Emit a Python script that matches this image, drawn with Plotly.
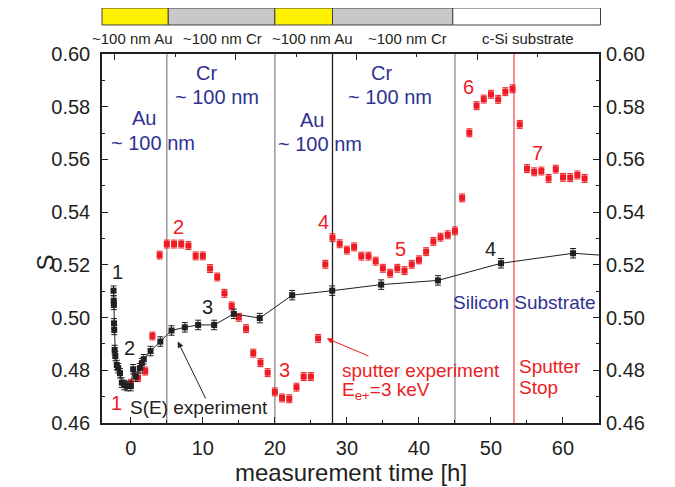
import plotly.graph_objects as go

# ---------------- data ----------------
red_t = list(range(0, 64))
red_S = [0.4751, 0.4772, 0.4797, 0.4930, 0.5237, 0.5279, 0.5279, 0.5279, 0.5273, 0.5234,
         0.5234, 0.5186, 0.5154, 0.5092, 0.5044, 0.5001, 0.4958, 0.4865, 0.4829, 0.4791,
         0.4718, 0.4695, 0.4692, 0.4736, 0.4776, 0.4776, 0.4921, 0.5202, 0.5303, 0.5280,
         0.5256, 0.5268, 0.5233, 0.5233, 0.5214, 0.5187, 0.5168, 0.5187, 0.5178, 0.5202,
         0.5219, 0.5250, 0.5289, 0.5305, 0.5314, 0.5329, 0.5454, 0.5701, 0.5804, 0.5829,
         0.5847, 0.5828, 0.5857, 0.5868, 0.5733, 0.5565, 0.5553, 0.5556, 0.5528, 0.5563,
         0.5532, 0.5531, 0.5541, 0.5528]

blk_t = [-2.4, -2.37, -2.35, -2.33, -2.3, -2.25, -2.15, -1.95, -1.75, -1.5, -1.25, -0.9, -0.5, 0.0,
         0.32, 0.69, 1.25, 1.53, 1.8, 2.74, 4.1, 5.65, 7.5, 9.35, 11.57, 14.3, 17.9, 22.4,
         27.96, 34.76, 42.64, 51.4, 61.4, 70.0]
blk_S = [0.5102, 0.5064, 0.5048, 0.4978, 0.4953, 0.4877, 0.4854, 0.4820, 0.4808, 0.4789,
         0.4753, 0.4744, 0.4740, 0.4740, 0.4804, 0.4776, 0.4808, 0.4827, 0.4842, 0.4873,
         0.4909, 0.4951, 0.4963, 0.4972, 0.4972, 0.5014, 0.4998, 0.5085, 0.5102, 0.5125,
         0.5141, 0.5206, 0.5244, 0.5228]

red_err = 0.0015
blk_err = 0.0018

boundaries = [5, 20, 28, 45]          # layer interfaces (h)
sputter_stop = 53.2
layer_labels = ["~100 nm Au", "~100 nm Cr", "~100 nm Au", "~100 nm Cr", "c-Si substrate"]
x_ticks_vals = [0, 10, 20, 30, 40, 50, 60]
y_tick_vals = [0.46, 0.48, 0.50, 0.52, 0.54, 0.56, 0.58, 0.60]

RED = "#ED1C24"
BLUE = "#2E3192"
BLK = "#231F20"
FONT = "Arial, Liberation Sans, sans-serif"

fig = go.Figure()

fig.add_trace(go.Scatter(
    x=red_t, y=red_S, mode="markers",
    marker=dict(symbol="square", size=6, color=RED),
    error_y=dict(type="constant", value=red_err, color=RED, thickness=1, width=3),
    showlegend=False, hoverinfo="skip"))

fig.add_trace(go.Scatter(
    x=blk_t, y=blk_S, mode="lines+markers",
    line=dict(color=BLK, width=1),
    marker=dict(symbol="square", size=6, color=BLK),
    error_y=dict(type="constant", value=blk_err, color=BLK, thickness=1, width=3),
    showlegend=False, hoverinfo="skip"))

# dummy traces to activate secondary axes
fig.add_trace(go.Scatter(x=[0], y=[0.5], yaxis="y2", mode="markers",
                         marker=dict(opacity=0), showlegend=False, hoverinfo="skip"))
fig.add_trace(go.Scatter(x=[1], y=[0.5], xaxis="x2", mode="markers",
                         marker=dict(opacity=0), showlegend=False, hoverinfo="skip"))

shapes = []
for b in boundaries:
    col = BLK if b == 28 else "#8A8A8A"
    shapes.append(dict(type="line", xref="x", yref="paper", x0=b, x1=b, y0=0, y1=1,
                       line=dict(color=col, width=1.3), layer="below"))
shapes.append(dict(type="line", xref="x", yref="paper", x0=sputter_stop, x1=sputter_stop,
                   y0=0, y1=1, line=dict(color=RED, width=1), layer="below"))

# top layer bar
bar_edges = [0.0, 0.1333, 0.3478, 0.4638, 0.7058, 1.003]
bar_cols = ["#FFF200", "#C8C8C8", "#FFF200", "#C8C8C8", "#FFFFFF"]
for i in range(5):
    shapes.append(dict(type="rect", xref="paper", yref="paper",
                       x0=bar_edges[i], x1=bar_edges[i + 1], y0=1.0786, y1=1.1247,
                       fillcolor=bar_cols[i], line=dict(color="#404040", width=1)))

annotations = []
label_x = [0.060, 0.2425, 0.4235, 0.6137, 0.8581]
for lx, lt in zip(label_x, layer_labels):
    annotations.append(dict(x=lx, y=1.0407, xref="paper", yref="paper", text=lt,
                            showarrow=False, yanchor="middle", xanchor="center",
                            font=dict(size=15, color=BLK, family=FONT)))

def txt(x, y, t, col, size=20, xanchor="center"):
    annotations.append(dict(x=x, y=y, xref="x", yref="y", text=t, showarrow=False,
                            xanchor=xanchor, yanchor="middle",
                            font=dict(size=size, color=col, family=FONT)))

# numbers
txt(-1.8, 0.5173, "1", BLK); txt(-0.14, 0.4884, "2", BLK)
txt(10.7, 0.5041, "3", BLK); txt(49.96, 0.5259, "4", BLK)
txt(-2.0, 0.4675, "1", RED); txt(6.6, 0.5345, "2", RED)
txt(21.4, 0.4801, "3", RED); txt(26.8, 0.5364, "4", RED)
txt(37.4, 0.5259, "5", RED); txt(46.85, 0.5876, "6", RED)
txt(56.4, 0.5623, "7", RED)

# layer descriptions
txt(10.5, 0.5927, "Cr", BLUE); txt(11.9, 0.5836, "~ 100 nm", BLUE)
txt(1.8, 0.5757, "Au", BLUE); txt(3.1, 0.5662, "~ 100 nm", BLUE)
txt(25.1, 0.5750, "Au", BLUE); txt(26.25, 0.5659, "~ 100 nm", BLUE)
txt(34.8, 0.5927, "Cr", BLUE); txt(36.0, 0.5836, "~ 100 nm", BLUE)
txt(54.7, 0.5057, "Silicon Substrate", BLUE, size=19)

txt(29.1, 0.4801, "sputter experiment", RED, size=19, xanchor="left")
txt(29.1, 0.4722, "E<sub>e+</sub>=3 keV", RED, size=19, xanchor="left")
txt(53.6, 0.4816, "Sputter", RED, size=19, xanchor="left")
txt(53.6, 0.4734, "Stop", RED, size=19, xanchor="left")
txt(-0.37, 0.4657, "S(E) experiment", BLK, size=19, xanchor="left")

# arrows
annotations.append(dict(x=6.53, y=0.4909, ax=10.5, ay=0.4687, xref="x", yref="y",
                        axref="x", ayref="y", showarrow=True, arrowhead=2, arrowsize=1.2,
                        arrowwidth=1, arrowcolor=BLK, text=""))
annotations.append(dict(x=27.2, y=0.4921, ax=33.2, ay=0.4852, xref="x", yref="y",
                        axref="x", ayref="y", showarrow=True, arrowhead=2, arrowsize=1.2,
                        arrowwidth=1, arrowcolor=RED, text=""))

# axis titles
annotations.append(dict(x=0.5, y=-0.135, xref="paper", yref="paper", text="measurement time [h]",
                        showarrow=False, yanchor="middle",
                        font=dict(size=24, color=BLK, family=FONT)))
annotations.append(dict(x=-0.145, y=0.436, xref="paper", yref="paper", text="S",
                        showarrow=False, textangle=-90,
                        font=dict(size=24, color=BLK, family=FONT)))

axis_font = dict(size=20, color=BLK, family=FONT)
fig.update_layout(
    width=667, height=479,
    margin=dict(l=94, r=76, t=46, b=64),
    paper_bgcolor="white", plot_bgcolor="white",
    showlegend=False,
    shapes=shapes, annotations=annotations,
    xaxis=dict(range=[-4, 65], tickvals=x_ticks_vals, ticks="inside", ticklen=6,
               tickcolor=BLK, showline=True, linecolor=BLK, linewidth=1.5, mirror=True,
               showgrid=False, zeroline=False, tickfont=axis_font, ticklabelstandoff=6,
               minor=dict(dtick=5, tick0=0, ticks="inside", ticklen=3, tickcolor=BLK)),
    xaxis2=dict(range=[-0.104, 4.005], overlaying="x", side="top", anchor="y",
                dtick=1, tick0=0, ticks="inside", ticklen=6, tickcolor=BLK,
                showticklabels=False, showgrid=False, zeroline=False, showline=False,
                minor=dict(dtick=0.5, tick0=0, ticks="inside", ticklen=3, tickcolor=BLK)),
    yaxis=dict(range=[0.46, 0.60], tickvals=y_tick_vals, tickformat=".2f", ticks="inside",
               ticklen=6, tickcolor=BLK, showline=True, linecolor=BLK, linewidth=1.5,
               mirror=True, showgrid=False, zeroline=False, tickfont=axis_font,
               ticklabelstandoff=6,
               minor=dict(dtick=0.01, tick0=0.46, ticks="inside", ticklen=3, tickcolor=BLK)),
    yaxis2=dict(range=[0.46, 0.60], overlaying="y", side="right", anchor="x",
                tickvals=y_tick_vals, tickformat=".2f", ticks="inside", ticklen=6,
                tickcolor=BLK, showline=False, showgrid=False, zeroline=False,
                tickfont=axis_font, ticklabelstandoff=6,
                minor=dict(dtick=0.01, tick0=0.46, ticks="inside", ticklen=3, tickcolor=BLK)),
)

fig.write_html("out.html")
